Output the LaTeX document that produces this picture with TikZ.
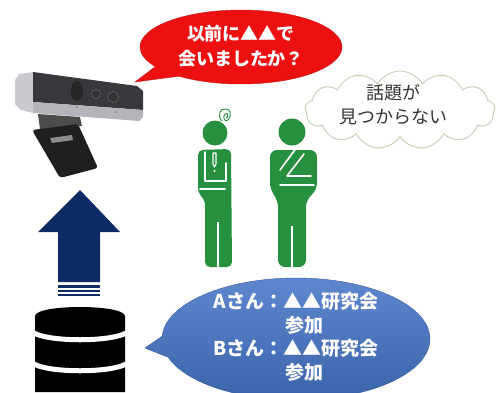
\documentclass[tikz,border=0pt]{standalone}
\usepackage{fontspec}
\usepackage{tikz}
\usetikzlibrary{shapes.callouts, shapes.symbols, positioning}
\newfontfamily\jpfont{Noto Sans CJK JP}
\definecolor{talkred}{HTML}{EC1010}
\definecolor{talkblue}{HTML}{4272C6}
\definecolor{dbnavy}{HTML}{0F2B66}
\definecolor{staffgreen}{HTML}{27903E}
\definecolor{cloudline}{HTML}{C8D2BA}
\definecolor{camdark}{HTML}{38383C}
\definecolor{camsilver}{HTML}{B4B5BA}

\begin{document}
\begin{tikzpicture}[x=1pt, y=-1pt,
    bubble/.style={ellipse callout, inner sep=0pt, callout pointer arc=20},
    say/.style={font=\jpfont\bfseries\fontsize{18}{25}\selectfont,
                text=white, align=center},
    think/.style={font=\jpfont\fontsize{18}{24}\selectfont,
                  text=black!80, align=center},
    pers/.style={fill=staffgreen},
    fold/.style={white, line width=1.6pt, line cap=round, line join=round},
  ]
  \useasboundingbox (0,0) rectangle (499,392);

  % web camera
  \fill[camsilver!70!white] (15,80) -- (19,74) -- (33,72) -- (33,113)
        -- (21,110) -- (15,104) -- cycle;
  \fill[camdark] (33,72) -- (137,86) -- (143,91) -- (143,110) -- (33,102) -- cycle;
  \fill[camsilver] (33,102) -- (143,110) -- (143,117) -- (139,121) -- (33,113) -- cycle;
  \fill[black!85] (77,91) ellipse (6 and 10);
  \filldraw[fill=black!80, draw=black!55] (96,94) circle (4.5);
  \filldraw[fill=black!80, draw=black!55] (113,97) circle (5.5);
  \fill[black!60] (77,107) circle (0.8) (116,112) circle (0.8);
  \fill[black!70] (38,114) -- (80,117) -- (82,126) -- (40,129) -- cycle;
  \fill[black!88, rounded corners=3] (32,130) -- (78,124) -- (98,168) -- (60,178) -- cycle;
  \fill[black!45] (50,138) -- (72,135) -- (73,140) -- (52,143) -- cycle;
  \coordinate (camtip) at (135,82);

  % upload arrow
  \fill[dbnavy] (80,190) -- (120,232) -- (100,232) -- (100,282) -- (58,282)
        -- (58,232) -- (38,232) -- cycle;
  \foreach \ya/\yb in {285/287.5, 289.5/292, 294/296}
    \fill[dbnavy] (58,\ya) rectangle (100,\yb);

  % database
  \fill[black] (35,316) .. controls (36,304) and (124,304) .. (125,316)
        -- (125,392) -- (35,392) -- cycle;
  \foreach \yg in {333,364}
    \draw[white, line width=5pt] (34,\yg) .. controls (50,\yg+9) and (110,\yg+9) .. (126,\yg);
  \coordinate (dbtip) at (145,348);

  % two staff members
  \fill[pers] (215,133) circle (12.5);
  \fill[pers, rounded corners=5] (198,150) -- (231,149) -- (232,267) -- (205,267)
        -- (205,200) -- (198,193) -- cycle;
  \draw[white, line width=1.5pt] (218,222) -- (218,268);
  \draw[fold] (205,152) -- (205,181) -- (226,181) -- (226,163);
  \draw[fold] (200,189) -- (225,189);
  \draw[white, line width=1.1pt, line join=round] (213,153) -- (216,153) -- (216,164)
        -- (214.5,167) -- (213,164) -- cycle;
  \fill[white] (214.5,171) circle (1.2);
  \draw[staffgreen, line width=0.9pt] (222,121) .. controls (217,116) and (220,108) .. (225,109)
        .. controls (231,108) and (232,116) .. (228,120)
        .. controls (225,123) and (222,117) .. (225,114)
        .. controls (228,111) and (229,118) .. (226,118);

  \fill[pers] (292,132) circle (13.5);
  \fill[pers, rounded corners=7] (270,150) -- (317,150) -- (317,190) -- (306,200)
        -- (306,267) -- (278,267) -- (278,200) -- (270,190) -- cycle;
  \draw[white, line width=1.5pt] (292,226) -- (292,268);
  \draw[fold] (297,147) -- (280,170);
  \draw[fold] (304,154) -- (287,176) -- (311,176);
  \draw[fold] (280,185) -- (314,185);

  % thought cloud
  \node[cloud, cloud puffs=13, cloud puff arc=120, aspect=2.4, draw=cloudline,
        line width=1pt, fill=white, minimum width=190pt, minimum height=78pt,
        inner sep=0pt] (muse) at (400,110) {};
  \node[think] (musetext) at (393,105) {話題が\\見つからない};

  % speech bubbles
  \node[bubble, fill=talkred, draw=talkred!85!black, minimum width=202pt,
        minimum height=74pt, callout absolute pointer={(camtip)}] (ask) at (241,47) {};
  \node[say] (asktext) at (241,46) {以前に▲▲で\\会いましたか？};

  \node[bubble, top color=talkblue!85!white, bottom color=talkblue!85!black,
        draw=talkblue!80!black, minimum width=268pt, minimum height=122pt,
        callout absolute pointer={(dbtip)}] (log) at (296,339) {};
  \node[say, font=\jpfont\bfseries\fontsize{19}{23.5}\selectfont] (logtext) at (296,337)
        {Aさん：▲▲研究会\\\hspace*{16pt}参加\\Bさん：▲▲研究会\\\hspace*{16pt}参加};
\end{tikzpicture}
\end{document}
